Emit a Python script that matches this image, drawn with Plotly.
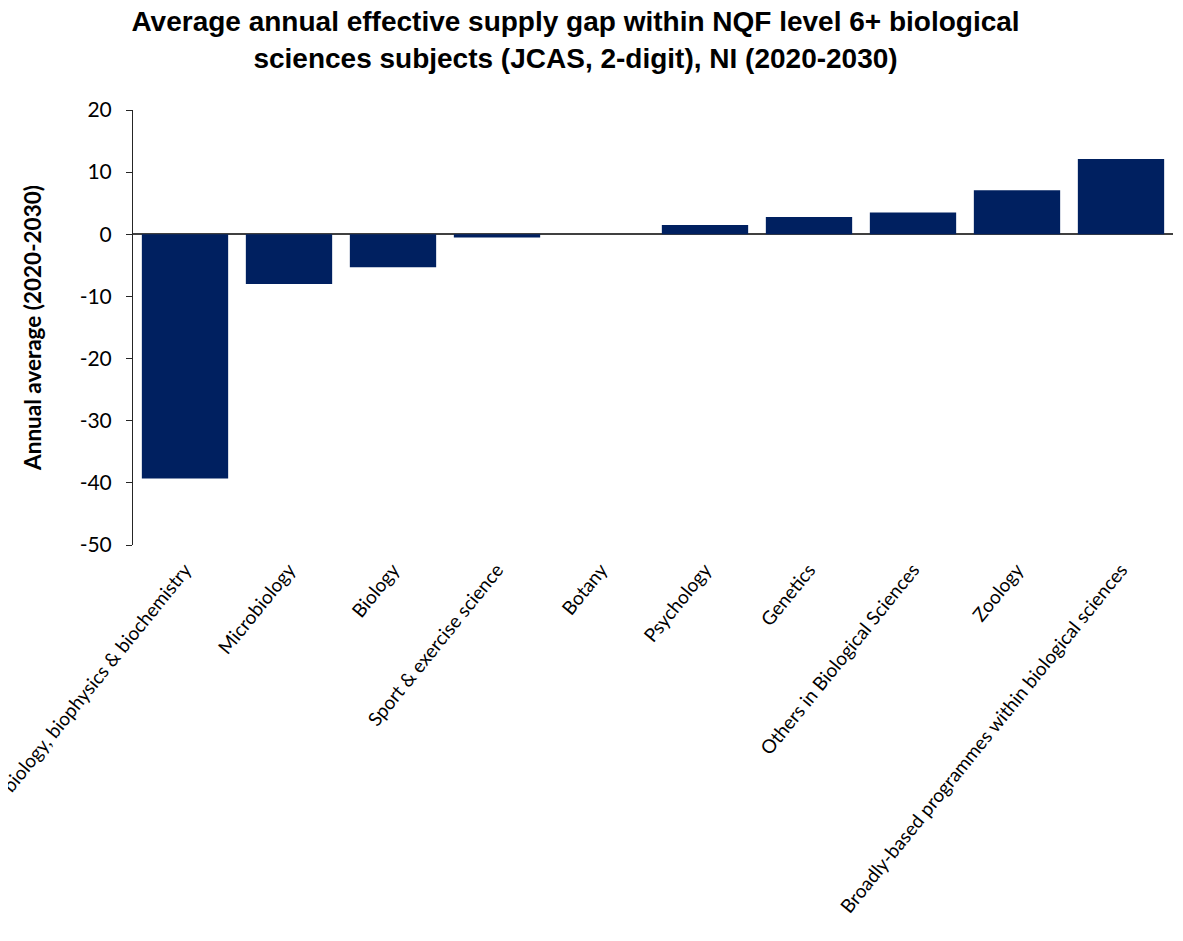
import plotly.graph_objects as go

categories = [
    "Molecular biology, biophysics & biochemistry",
    "Microbiology",
    "Biology",
    "Sport & exercise science",
    "Botany",
    "Psychology",
    "Genetics",
    "Others in Biological Sciences",
    "Zoology",
    "Broadly-based programmes within biological sciences",
]
values = [-39.3, -8.0, -5.3, -0.5, 0.0, 1.5, 2.8, 3.5, 7.1, 12.1]

y_ticks = [20, 10, 0, -10, -20, -30, -40, -50]
y_tick_labels = ["20", "10", "0", "-10", "-20", "-30", "-40", "-50"]

fig = go.Figure()
fig.add_trace(go.Bar(
    x=categories,
    y=values,
    marker=dict(color="#002060", line=dict(width=0)),
))

fig.update_layout(
    width=1175,
    height=933,
    margin=dict(l=125, r=10, t=102, b=396),
    plot_bgcolor="white",
    paper_bgcolor="white",
    bargap=0.17,
    showlegend=False,
    title=dict(
        text="Average annual effective supply gap within NQF level 6+ biological<br>sciences subjects (JCAS, 2-digit), NI (2020-2030)",
        x=0.483,
        xanchor="center",
        yref="container",
        y=0.975,
        yanchor="middle",
        font=dict(family="Liberation Sans", size=28, color="black", weight="bold"),
    ),
    xaxis=dict(
        tickangle=-51,
        showline=False,
        showgrid=False,
        ticks="",
        ticklabelstandoff=9,
        automargin=False,
        tickfont=dict(family="Lato", size=19, color="black"),
    ),
    yaxis=dict(
        range=[-50, 20],
        tickvals=y_ticks,
        ticktext=y_tick_labels,
        showgrid=False,
        showline=True,
        linecolor="#262626",
        linewidth=1,
        ticks="outside",
        ticklen=6,
        tickcolor="#262626",
        ticklabelstandoff=10,
        zeroline=True,
        zerolinecolor="#404040",
        zerolinewidth=1.5,
        automargin=False,
        tickfont=dict(family="Lato", size=21, color="black"),
        title=dict(
            text="Annual average (2020-2030)",
            font=dict(family="Lato", size=22.5, color="black", weight="bold"),
            standoff=31,
        ),
    ),
)

fig.write_html("out.html")
